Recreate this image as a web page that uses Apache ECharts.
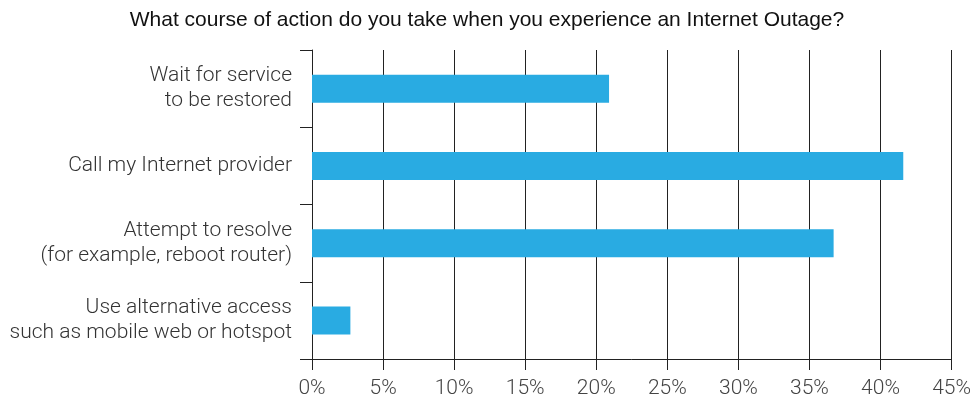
<!DOCTYPE html>
<html>
<head>
<meta charset="utf-8">
<script src="https://cdn.jsdelivr.net/npm/echarts@6/dist/echarts.min.js"></script>
<style>
  html, body { margin: 0; padding: 0; background: #fff; }
  #chart { width: 974px; height: 400px; }
</style>
</head>
<body>
<div id="chart"></div>
<script>
// 数据
var categories = [
  'Wait for service\nto be restored',
  'Call my Internet provider',
  'Attempt to resolve\n(for example, reboot router)',
  'Use alternative access\nsuch as mobile web or hotspot'
];
var values = [20.9, 41.6, 36.7, 2.7];
var tickValues = [0, 5, 10, 15, 20, 25, 30, 35, 40, 45];

var chart = echarts.init(document.getElementById('chart'));
chart.setOption({
  animation: false,
  title: {
    text: 'What course of action do you take when you experience an Internet Outage?',
    left: 'center',
    top: 5,
    textStyle: {
      fontFamily: 'Liberation Sans',
      fontSize: 21,
      fontWeight: 'normal',
      color: '#111'
    }
  },
  grid: {
    left: 312,
    right: 22,
    top: 50,
    bottom: 41
  },
  xAxis: {
    type: 'value',
    min: tickValues[0],
    max: tickValues[tickValues.length - 1],
    interval: 5,
    axisLine: { show: true, lineStyle: { color: '#222', width: 1 } },
    axisTick: { show: true, length: 11, lineStyle: { color: '#222' } },
    splitLine: { show: true, lineStyle: { color: '#222', width: 1 } },
    axisLabel: {
      formatter: '{value}%',
      fontFamily: 'Roboto',
      fontWeight: 300,
      fontSize: 21,
      color: '#444',
      margin: 19
    }
  },
  yAxis: {
    type: 'category',
    inverse: true,
    data: categories,
    axisLine: { show: true, lineStyle: { color: '#222', width: 1 } },
    axisTick: { show: true, length: 12, lineStyle: { color: '#222' } },
    axisLabel: {
      fontFamily: 'Roboto',
      fontWeight: 300,
      fontSize: 21,
      lineHeight: 25,
      color: '#333',
      margin: 20,
      align: 'right'
    }
  },
  series: [{
    type: 'bar',
    data: values,
    barWidth: 28,
    itemStyle: { color: '#29abe2' }
  }]
});
</script>
</body>
</html>
